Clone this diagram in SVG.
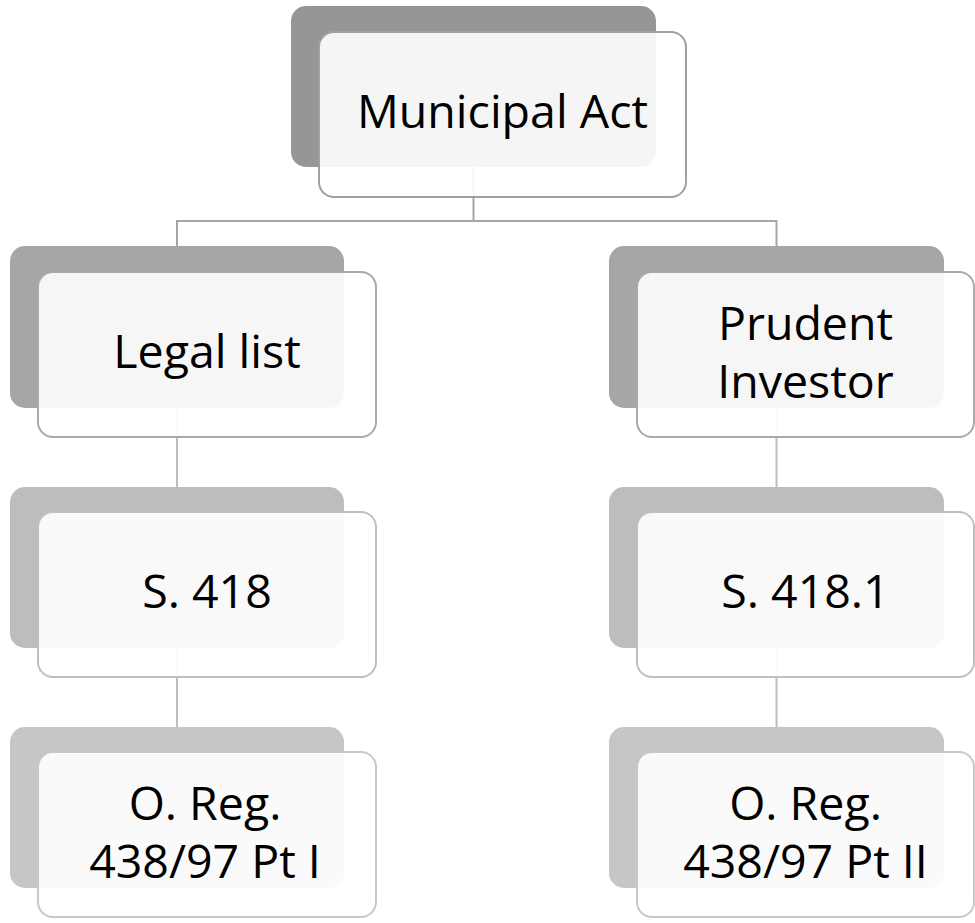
<svg xmlns="http://www.w3.org/2000/svg" width="975" height="923" viewBox="0 0 975 923">
<style>
.front{fill:#ffffff;fill-opacity:0.9;stroke-width:2}
.t{font-family:"Open Sans",Lato,sans-serif;font-size:46.5px;fill:#000;text-anchor:middle}
.c1{fill:none;stroke:#a6a6a6;stroke-width:2}
.c2{fill:none;stroke:#bdbdbd;stroke-width:2}
</style>
<rect width="975" height="923" fill="#ffffff"/>
<g id="connectors">
<path class="c1" d="M473.5,167 V221 M177,221 H777 M177,220 V246 M776.5,220 V246"/>
<path class="c2" d="M177,408 V487 M776.5,408 V487 M177,648 V727 M776.5,648 V727"/>
</g>
<g id="municipal-act">
<rect x="291" y="6" width="365" height="161" rx="15" fill="#969696"/>
<rect class="front" x="319" y="32" width="367" height="165" rx="15" stroke="#a0a0a0"/>
<text class="t" x="502.5" y="128">Municipal Act</text>
</g>
<g id="legal-list">
<rect x="10" y="246" width="334" height="162" rx="15" fill="#a6a6a6"/>
<rect class="front" x="38" y="272" width="338" height="165" rx="15" stroke="#a9a9a9"/>
<text class="t" x="207" y="368">Legal list</text>
</g>
<g id="prudent-investor">
<rect x="609" y="246" width="335" height="162" rx="15" fill="#a6a6a6"/>
<rect class="front" x="637" y="272" width="337" height="165" rx="15" stroke="#a9a9a9"/>
<text class="t" x="805.5" y="340">Prudent</text>
<text class="t" x="805.5" y="398">Investor</text>
</g>
<g id="s418">
<rect x="10" y="487" width="334" height="161" rx="15" fill="#bdbdbd"/>
<rect class="front" x="38" y="512" width="338" height="165" rx="15" stroke="#bfbfbf"/>
<text class="t" x="207" y="608">S. 418</text>
</g>
<g id="s418-1">
<rect x="609" y="487" width="335" height="161" rx="15" fill="#bdbdbd"/>
<rect class="front" x="637" y="512" width="337" height="165" rx="15" stroke="#bfbfbf"/>
<text class="t" x="805.5" y="608">S. 418.1</text>
</g>
<g id="oreg-pt1">
<rect x="10" y="727" width="334" height="161" rx="15" fill="#c6c6c6"/>
<rect class="front" x="38" y="752" width="338" height="165" rx="15" stroke="#c8c8c8"/>
<text class="t" x="205" y="820">O. Reg.</text>
<text class="t" x="205" y="878">438/97 Pt I</text>
</g>
<g id="oreg-pt2">
<rect x="609" y="727" width="335" height="161" rx="15" fill="#c6c6c6"/>
<rect class="front" x="637" y="752" width="337" height="165" rx="15" stroke="#c8c8c8"/>
<text class="t" x="805.5" y="820">O. Reg.</text>
<text class="t" x="805.5" y="878">438/97 Pt II</text>
</g>
</svg>
